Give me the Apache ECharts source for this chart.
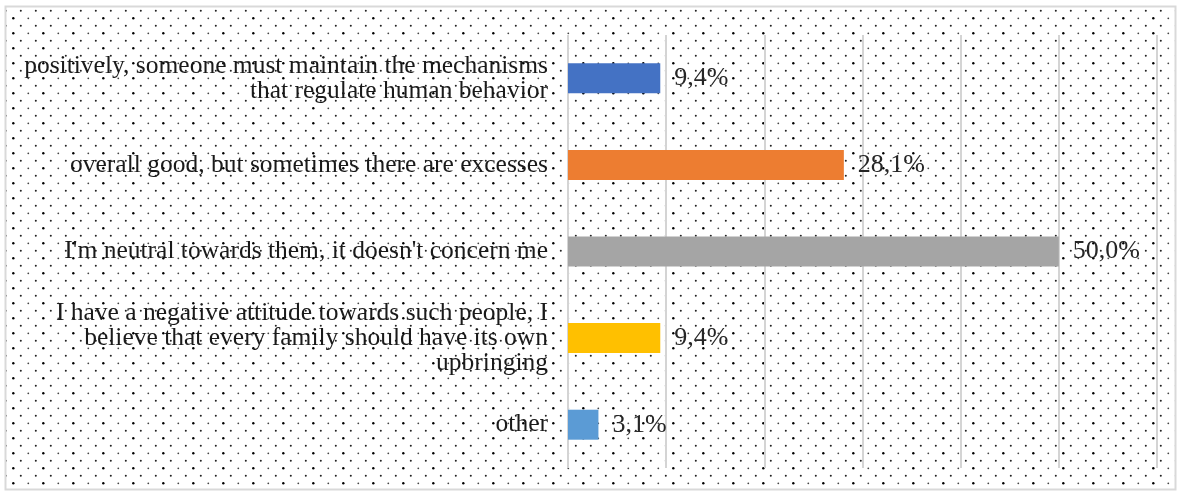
<!DOCTYPE html>
<html>
<head>
<meta charset="utf-8">
<style>
  html, body { margin: 0; padding: 0; background: #ffffff; }
  #chart { width: 1179px; height: 493px; }
</style>
<script src="https://cdn.jsdelivr.net/npm/echarts@6/dist/echarts.min.js"></script>
</head>
<body>
<div id="chart"></div>
<script>
// Survey answers (top to bottom) and their shares in percent
const categories = [
  'positively, someone must maintain the mechanisms\nthat regulate human behavior',
  'overall good, but sometimes there are excesses',
  "I'm neutral towards them, it doesn't concern me",
  'I have a negative attitude towards such people, I\nbelieve that every family should have its own\nupbringing',
  'other'
];
const shares = [9.4, 28.1, 50.0, 9.4, 3.1];
const barColors = ['#4472C4', '#ED7D31', '#A5A5A5', '#FFC000', '#5B9BD5'];

// Dotted fill tile: a staggered lattice, 15px across, 7.5px between rows
function dotTile() {
  const c = document.createElement('canvas');
  c.width = 30; c.height = 15;
  const g = c.getContext('2d');
  const dots = [
    [13.3, 3.3, 1.2, '#000'], [28.3, 3.3, 0.9, '#444'],
    [5.8, 10.8, 1.0, '#222'], [20.8, 10.8, 1.0, '#222']
  ];
  dots.forEach(function (d) {
    g.fillStyle = d[3];
    g.beginPath();
    g.arc(d[0], d[1], d[2], 0, Math.PI * 2);
    g.fill();
  });
  return c;
}

const chart = echarts.init(document.getElementById('chart'), null, { renderer: 'canvas' });

chart.setOption({
  animation: false,
  backgroundColor: '#ffffff',
  graphic: [{
    type: 'rect',
    z: -10,
    silent: true,
    shape: { x: 5.5, y: 6.5, width: 1170, height: 483 },
    style: { fill: { image: dotTile(), repeat: 'repeat' }, stroke: '#d9d9d9', lineWidth: 2 }
  }],
  grid: { left: 568, right: 22, top: 35, bottom: 25, containLabel: false },
  xAxis: {
    type: 'value',
    min: 0,
    max: 60,
    interval: 10,
    axisLabel: { show: false },
    axisLine: { show: false },
    axisTick: { show: false },
    splitLine: { show: true, lineStyle: { color: '#d4d4d4', width: 2 } }
  },
  yAxis: {
    type: 'category',
    inverse: true,
    data: categories,
    axisLine: { show: false },
    axisTick: { show: false },
    axisLabel: {
      margin: 20,
      align: 'right',
      fontFamily: 'Liberation Serif',
      fontSize: 25.5,
      lineHeight: 25,
      color: '#1a1a1a'
    }
  },
  series: [{
    type: 'bar',
    barWidth: 30,
    data: shares.map(function (v, i) {
      return { value: v, itemStyle: { color: barColors[i] } };
    }),
    label: {
      show: true,
      position: 'right',
      distance: 14,
      fontFamily: 'Liberation Serif',
      fontSize: 26,
      color: '#262626',
      formatter: function (p) { return p.value.toFixed(1).replace('.', ',') + '%'; }
    }
  }]
});
</script>
</body>
</html>
